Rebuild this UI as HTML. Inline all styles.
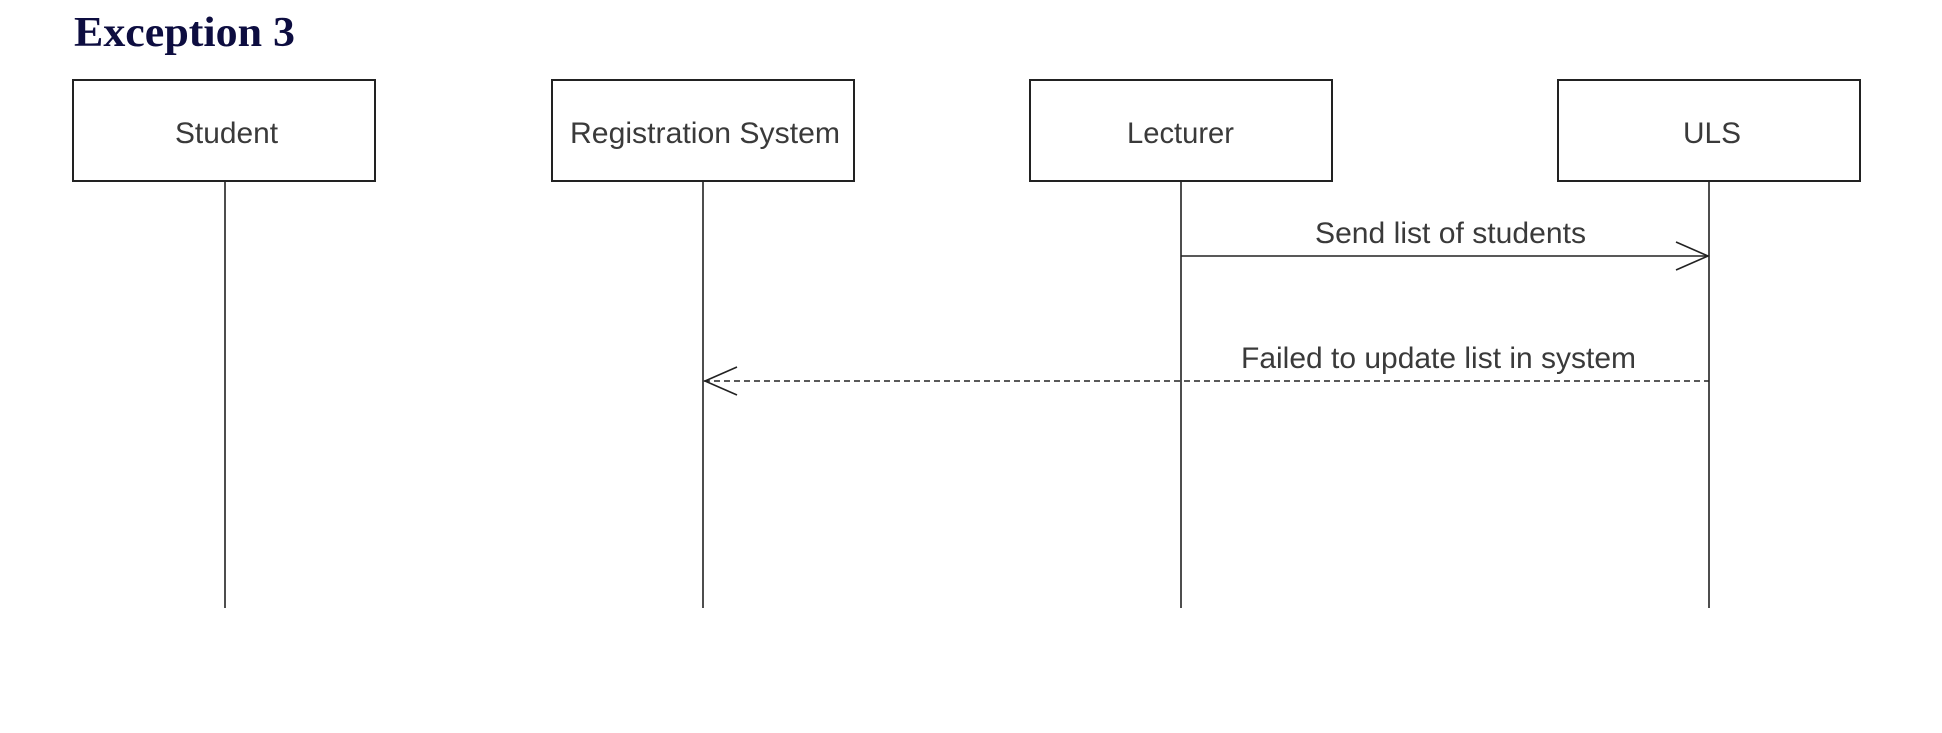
<!DOCTYPE html>
<html><head><meta charset="utf-8"><style>
html,body{margin:0;padding:0;background:#fff;}
body{width:1942px;height:728px;overflow:hidden;}
</style></head><body>
<svg width="1942" height="728" xmlns="http://www.w3.org/2000/svg">
<text x="74" y="46" font-family="Liberation Serif, serif" font-weight="bold" font-size="42" fill="#0d0d40" textLength="221" lengthAdjust="spacingAndGlyphs">Exception 3</text>
<g fill="#fff" stroke="#222" stroke-width="2">
<rect x="73" y="80" width="302" height="101"/>
<rect x="552" y="80" width="302" height="101"/>
<rect x="1030" y="80" width="302" height="101"/>
<rect x="1558" y="80" width="302" height="101"/>
</g>
<g font-family="Liberation Sans, sans-serif" font-size="30" fill="#3a3a3a">
<text x="175" y="143" textLength="103" lengthAdjust="spacingAndGlyphs">Student</text>
<text x="570" y="143" textLength="270" lengthAdjust="spacingAndGlyphs">Registration System</text>
<text x="1127" y="143" textLength="107" lengthAdjust="spacingAndGlyphs">Lecturer</text>
<text x="1683" y="143" textLength="58" lengthAdjust="spacingAndGlyphs">ULS</text>
<text x="1315" y="243" textLength="271" lengthAdjust="spacingAndGlyphs">Send list of students</text>
<text x="1241" y="368" textLength="395" lengthAdjust="spacingAndGlyphs">Failed to update list in system</text>
</g>
<g stroke="#222" stroke-width="1.6" fill="none">
<line x1="225" y1="181" x2="225" y2="608"/>
<line x1="703" y1="181" x2="703" y2="608"/>
<line x1="1181" y1="181" x2="1181" y2="608"/>
<line x1="1709" y1="181" x2="1709" y2="608"/>
<line x1="1181" y1="256" x2="1708" y2="256"/>
<polyline points="1676,242 1708,256 1676,270"/>
<line x1="704" y1="381" x2="1709" y2="381" stroke-dasharray="6,4"/>
<polyline points="737,367 705,381 737,395"/>
</g>
</svg>
</body></html>
